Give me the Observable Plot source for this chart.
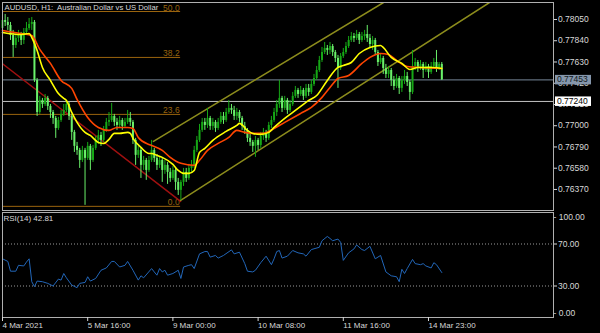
<!DOCTYPE html>
<html><head><meta charset="utf-8">
<script src="https://cdn.jsdelivr.net/npm/d3@7"></script>
<script src="https://cdn.jsdelivr.net/npm/@observablehq/plot@0.6"></script>
<style>
html,body{margin:0;padding:0;background:#000;}
#chart{position:relative;width:600px;height:333px;background:#000;overflow:hidden;}
#chart svg{position:absolute;left:0;}
#chart svg text{white-space:pre;}
</style></head><body><div id="chart"></div>
<script>
// ---------- data ----------
const titleText = "AUDUSD, H1:  Australian Dollar vs US Dollar";
const rsiTitle = "RSI(14) 42.81";
const firstOpen = 0.77961;
const closes = [0.78040,0.78021,0.77991,0.77892,0.77793,0.77863,0.77892,0.77843,0.77922,0.77961,
0.78001,0.78021,0.77448,0.77131,0.77250,0.77210,0.77270,0.77191,0.77131,0.77072,
0.76973,0.77052,0.77112,0.77151,0.77210,0.77092,0.76934,0.76796,0.76756,0.76657,
0.76756,0.76677,0.76796,0.76657,0.76776,0.76855,0.76904,0.76855,0.76954,0.77033,
0.77052,0.77092,0.77033,0.77003,0.77052,0.76993,0.77033,0.77072,0.77033,0.76855,
0.76707,0.76756,0.76608,0.76657,0.76558,0.76657,0.76756,0.76677,0.76608,0.76657,
0.76558,0.76608,0.76539,0.76479,0.76558,0.76440,0.76361,0.76440,0.76539,0.76479,
0.76578,0.76608,0.76756,0.76855,0.76954,0.77033,0.77003,0.77072,0.76993,0.77033,
0.76973,0.77033,0.77092,0.77052,0.77131,0.77171,0.77151,0.77092,0.77131,0.77072,
0.76993,0.76954,0.76875,0.76835,0.76796,0.76855,0.76805,0.76894,0.76934,0.76875,
0.77003,0.77052,0.77131,0.77210,0.77270,0.77171,0.77250,0.77151,0.77210,0.77290,
0.77349,0.77309,0.77349,0.77290,0.77369,0.77329,0.77408,0.77467,0.77546,0.77645,
0.77724,0.77764,0.77744,0.77783,0.77724,0.77665,0.77566,0.77685,0.77724,0.77783,
0.77843,0.77882,0.77863,0.77902,0.77843,0.77882,0.77902,0.77863,0.77803,0.77843,
0.77724,0.77625,0.77665,0.77566,0.77507,0.77546,0.77448,0.77388,0.77467,0.77369,
0.77448,0.77487,0.77428,0.77329,0.77586,0.77625,0.77566,0.77606,0.77546,0.77586,
0.77527,0.77586,0.77625,0.77566,0.77606,0.77453];
const highs = [0.78100,0.78100,0.78070,0.78021,0.77942,0.77892,0.77942,0.77922,0.77961,0.78021,
0.78060,0.78070,0.78040,0.77467,0.77290,0.77270,0.77309,0.77290,0.77210,0.77151,
0.77092,0.77082,0.77151,0.77210,0.77250,0.77230,0.77112,0.76954,0.76835,0.76776,
0.76796,0.76776,0.76835,0.76815,0.76805,0.76894,0.76954,0.76934,0.76993,0.77072,
0.77131,0.77220,0.77112,0.77072,0.77092,0.77072,0.77072,0.77151,0.77131,0.77052,
0.76875,0.76796,0.76776,0.76697,0.76677,0.76697,0.76855,0.76776,0.76716,0.76697,
0.76677,0.76657,0.76637,0.76578,0.76598,0.76578,0.76479,0.76460,0.76578,0.76578,
0.76618,0.76657,0.76796,0.76894,0.77013,0.77072,0.77072,0.77171,0.77092,0.77072,
0.77052,0.77072,0.77131,0.77131,0.77171,0.77250,0.77210,0.77191,0.77171,0.77151,
0.77092,0.77033,0.76973,0.76914,0.76855,0.76894,0.76875,0.76934,0.76973,0.76954,
0.77033,0.77092,0.77171,0.77250,0.77448,0.77290,0.77290,0.77270,0.77250,0.77329,
0.77388,0.77369,0.77388,0.77369,0.77408,0.77408,0.77448,0.77507,0.77586,0.77685,
0.77774,0.77823,0.77793,0.77823,0.77803,0.77744,0.77695,0.77714,0.77764,0.77823,
0.77882,0.77922,0.77912,0.77942,0.77922,0.77922,0.77942,0.77991,0.77902,0.77882,
0.77863,0.77744,0.77704,0.77685,0.77606,0.77586,0.77566,0.77487,0.77507,0.77487,
0.77487,0.77546,0.77527,0.77448,0.77744,0.77665,0.77645,0.77645,0.77625,0.77625,
0.77606,0.77625,0.77665,0.77744,0.77625,0.77625];
const lows = [0.77942,0.77981,0.77942,0.77843,0.77675,0.77764,0.77823,0.77793,0.77803,0.77892,
0.77942,0.77942,0.77428,0.77092,0.77112,0.77171,0.77191,0.77151,0.77072,0.77013,
0.76875,0.76954,0.77033,0.77092,0.77131,0.77052,0.76855,0.76736,0.76707,0.76578,
0.76637,0.76213,0.76657,0.76558,0.76637,0.76756,0.76815,0.76796,0.76835,0.76934,
0.76993,0.77033,0.76993,0.76954,0.76973,0.76954,0.76973,0.77013,0.76993,0.76815,
0.76608,0.76677,0.76479,0.76558,0.76460,0.76539,0.76637,0.76637,0.76558,0.76578,
0.76440,0.76519,0.76420,0.76440,0.76460,0.76361,0.76311,0.76262,0.76400,0.76440,
0.76460,0.76539,0.76578,0.76736,0.76835,0.76934,0.76954,0.76973,0.76954,0.76954,
0.76934,0.76954,0.77013,0.77013,0.77033,0.77112,0.77112,0.77052,0.77052,0.77033,
0.76954,0.76914,0.76835,0.76796,0.76736,0.76687,0.76756,0.76776,0.76855,0.76835,
0.76855,0.76973,0.77033,0.77092,0.77171,0.77131,0.77151,0.77112,0.77131,0.77191,
0.77270,0.77270,0.77290,0.77250,0.77270,0.77290,0.77309,0.77388,0.77448,0.77527,
0.77625,0.77704,0.77695,0.77704,0.77685,0.77625,0.77369,0.77546,0.77665,0.77704,
0.77764,0.77823,0.77823,0.77843,0.77803,0.77823,0.77843,0.77823,0.77764,0.77744,
0.77695,0.77586,0.77606,0.77507,0.77467,0.77467,0.77388,0.77349,0.77369,0.77309,
0.77329,0.77408,0.77388,0.77250,0.77309,0.77546,0.77527,0.77546,0.77467,0.77527,
0.77467,0.77507,0.77566,0.77527,0.77546,0.77448];

const maFastIdx = [0,7,10,11,13,15,18,21,23,24,26,28,31,33,36,38,40,42,44,47,48,49,52,55,56,58,60,64,66,68,70,72,74,76,79,84,88,89,92,94,97,100,102,106,109,112,115,118,122,126,128,131,134,138,142,143,146,150,153,156,162,165];
const maFastVals = [0.77922,0.77902,0.77912,0.77872,0.77744,0.77576,0.77448,0.77319,0.77270,0.77250,0.77131,0.77033,0.76934,0.76904,0.76835,0.76825,0.76865,0.76924,0.76924,0.76934,0.76924,0.76875,0.76786,0.76726,0.76726,0.76707,0.76687,0.76618,0.76558,0.76529,0.76529,0.76558,0.76736,0.76776,0.76855,0.76944,0.77003,0.77023,0.76954,0.76924,0.76914,0.76934,0.76983,0.77072,0.77131,0.77191,0.77250,0.77299,0.77448,0.77576,0.77596,0.77625,0.77714,0.77774,0.77793,0.77774,0.77675,0.77616,0.77556,0.77576,0.77576,0.77566];
const maSlowIdx = [0,7,11,14,18,22,26,28,32,36,40,43,47,49,51,55,56,60,63,67,72,74,77,81,85,88,91,94,98,102,106,112,116,120,123,126,130,135,138,142,145,148,152,157,165];
const maSlowVals = [0.77942,0.77912,0.77892,0.77754,0.77616,0.77448,0.77369,0.77260,0.77082,0.76983,0.76954,0.76983,0.76983,0.76973,0.76884,0.76815,0.76805,0.76756,0.76687,0.76628,0.76608,0.76658,0.76756,0.76825,0.76884,0.76954,0.76934,0.76924,0.76924,0.76973,0.77033,0.77122,0.77181,0.77280,0.77378,0.77467,0.77497,0.77616,0.77675,0.77714,0.77704,0.77645,0.77586,0.77576,0.77566];

const rsiIdx = [0,2,3,5,6,8,9,10,11,12,13,15,17,19,21,22,23,24,26,28,29,31,32,33,35,37,39,41,42,44,46,47,49,51,52,53,56,57,58,59,60,61,62,64,66,67,68,70,71,72,74,76,77,78,80,81,83,86,87,89,91,92,94,95,97,99,101,102,103,104,105,107,109,111,113,114,116,119,120,122,123,124,126,127,128,130,132,133,135,136,138,140,142,144,146,148,149,150,151,152,154,155,157,158,159,161,162,163,165];
const rsiVals = [55.9,53.4,44.1,44.1,49.7,49.1,52.8,55.9,34.1,29.4,34.7,34.1,32.5,30.0,36.6,35.6,41.9,37.8,30.9,28.4,32.5,33.4,38.8,34.7,37.2,45.0,47.2,53.4,53.4,48.1,49.7,53.4,45.0,35.6,39.7,37.8,46.6,43.4,40.3,46.6,43.4,45.0,40.3,41.9,45.0,37.2,48.1,49.7,50.3,46.6,60.6,62.8,62.8,57.5,59.1,56.6,59.1,64.4,60.6,62.2,51.3,44.1,43.4,45.0,52.2,58.4,50.3,55.9,62.8,63.8,56.6,58.4,63.8,61.6,60.6,58.4,64.7,66.9,73.1,77.2,75.3,73.1,74.7,71.6,54.4,61.6,65.3,69.1,64.7,63.8,67.8,55.9,59.1,43.4,39.7,38.8,34.1,45.9,41.9,46.6,55.3,51.3,50.3,51.3,49.1,47.2,52.2,50.3,42.81];
const rsiLevels = [70, 30];
const rsiTop = [100], rsiBottom = [0];

const fibLabels = ["50.0", "38.2", "23.6", "0.0"];
const fibPrices = [0.78129, 0.77675, 0.77112, 0.76203];
const fibStartIdx = -1, fibEndIdx = 66.9;

const trendRed = [{i: -1, p: 0.77633}, {i: 66.9, p: 0.76252}];
const channelUpper = [{i: 56.7, p: 0.76845}, {i: 143.1, p: 0.78218}];
const channelLower = [{i: 66.9, p: 0.76262}, {i: 182.9, p: 0.78218}];

const bidPrice = 0.77453;
const hLinePrice = 0.77240;
const priceTicks = [0.78050,0.77840,0.77630,0.77420,0.77210,0.77000,0.76790,0.76580,0.76370];
const dateTickIdx = [0, 32, 64, 96, 128, 160];
const dateLabels = ["4 Mar 2021", "5 Mar 16:00", "9 Mar 00:00", "10 Mar 08:00", "11 Mar 16:00", "14 Mar 23:00"];

// ---------- build ----------
const FONT = "'Liberation Sans', Arial, sans-serif";
const TXT = "#d8d8d8";
const BORDER = "#b0b0b0";
const BULL = "#16a816", BEAR = "#6af06a";
const FIB = "#9a640e";

const bars = closes.map((c, i) => ({i, open: i ? closes[i - 1] : firstOpen, close: c, high: highs[i], low: lows[i]}));
const up = bars.filter(b => b.close >= b.open), dn = bars.filter(b => b.close < b.open);
const fib = fibLabels.map((l, k) => ({label: l, price: fibPrices[k]}));
const maFast = maFastIdx.map((i, k) => ({i, p: maFastVals[k]}));
const maSlow = maSlowIdx.map((i, k) => ({i, p: maSlowVals[k]}));
const rsi = rsiIdx.map((i, k) => ({i, v: rsiVals[k]}));
const xDomain = [0, 206.95];
const dateMap = new Map(dateTickIdx.map((d, k) => [d, dateLabels[k]]));
const f2 = d3.format(".2f");

const main = Plot.plot({
  width: 600, height: 212,
  marginTop: 2, marginBottom: 2, marginLeft: 2, marginRight: 47,
  style: {background: "#000", color: TXT, fontFamily: FONT, fontSize: "8.5px", overflow: "visible"},
  x: {domain: xDomain, axis: null},
  y: {domain: [0.76162, 0.78218], axis: null},
  marks: [
    Plot.ruleY([bidPrice], {stroke: "#778899"}),
    Plot.ruleY([hLinePrice], {stroke: "#c4c4c4"}),
    Plot.ruleY(fib, {y: "price", x1: fibStartIdx, x2: fibEndIdx, stroke: FIB, clip: true}),
    Plot.text(fib, {x: fibEndIdx, y: "price", text: "label", textAnchor: "end", lineAnchor: "bottom", dx: -1, dy: -1, fill: FIB, fontSize: 8.5}),
    Plot.line(trendRed, {x: "i", y: "p", stroke: "#a01010", clip: true}),
    Plot.line(channelUpper, {x: "i", y: "p", stroke: "#8c8c1c", clip: true}),
    Plot.line(channelLower, {x: "i", y: "p", stroke: "#8c8c1c", clip: true}),
    Plot.ruleX(up, {x: "i", y1: "low", y2: "high", stroke: BULL}),
    Plot.ruleX(dn, {x: "i", y1: "low", y2: "high", stroke: BEAR}),
    Plot.ruleX(up, {x: "i", y1: "open", y2: "close", stroke: BULL, strokeWidth: 2}),
    Plot.ruleX(dn, {x: "i", y1: "open", y2: "close", stroke: BEAR, strokeWidth: 2}),
    Plot.line(maSlow, {x: "i", y: "p", stroke: "#ff4500", strokeWidth: 1.6, curve: "monotone-x"}),
    Plot.line(maFast, {x: "i", y: "p", stroke: "#ffff00", strokeWidth: 1.6, curve: "monotone-x"}),
    Plot.frame({stroke: BORDER}),
    Plot.axisY(priceTicks, {anchor: "right", label: null, tickSize: 3, tickPadding: 1.5, tickFormat: d3.format(".5f"), color: TXT, fontSize: 8.5}),
    Plot.text([titleText], {frameAnchor: "top-left", dx: 2, dy: 2, lineAnchor: "top", textAnchor: "start", fill: TXT, fontSize: 7.7})
  ]
});

// price-line labels on the axis
const ys = main.scale("y");
const svgSel = d3.select(main);
[[bidPrice, "#8596ab", "#101820"], [hLinePrice, "#ffffff", "#000000"]].forEach(([p, bg, fg]) => {
  const yy = ys.apply(p);
  const g = svgSel.append("g");
  g.append("rect").attr("x", 555).attr("y", yy - 4.5).attr("width", 36).attr("height", 9.5).attr("fill", bg);
  g.append("text").attr("x", 557).attr("y", yy).attr("dy", "0.34em").attr("font-size", 8.5)
    .attr("fill", fg).attr("text-anchor", "start").text(d3.format(".5f")(p));
});

const rsiPlot = Plot.plot({
  width: 600, height: 122,
  marginTop: 1, marginBottom: 16, marginLeft: 2, marginRight: 47,
  style: {background: "#000", color: TXT, fontFamily: FONT, fontSize: "8.5px", overflow: "visible"},
  x: {domain: xDomain, axis: null},
  y: {domain: [0, 100], axis: null},
  marks: [
    Plot.ruleY(rsiLevels, {stroke: "#9a9a9a", strokeDasharray: "1,2"}),
    Plot.line(rsi, {x: "i", y: "v", stroke: "#2266b8", strokeWidth: 1}),
    Plot.frame({stroke: BORDER}),
    Plot.axisY(rsiLevels, {anchor: "right", label: null, tickSize: 3, tickPadding: 1.5, tickFormat: f2, color: TXT, fontSize: 8.5}),
    Plot.text(rsiTop, {y: d => d, text: d => "- " + f2(d), frameAnchor: "right", textAnchor: "start", dx: 0, dy: 5, fill: TXT, fontSize: 8.5}),
    Plot.text(rsiBottom, {y: d => d, text: d => "- " + f2(d), frameAnchor: "right", textAnchor: "start", dx: 0, dy: -4, fill: TXT, fontSize: 8.5}),
    Plot.axisX(dateTickIdx, {anchor: "bottom", label: null, tickSize: 4, tickPadding: 1, textAnchor: "start", tickFormat: d => dateMap.get(d), color: TXT, fontSize: 8}),
    Plot.text([rsiTitle], {frameAnchor: "top-left", dx: 1, dy: 3, lineAnchor: "top", textAnchor: "start", fill: TXT, fontSize: 8})
  ]
});

const chart = document.getElementById("chart");
main.style.top = "0px";
rsiPlot.style.top = "211px";
chart.appendChild(main);
chart.appendChild(rsiPlot);
</script></body></html>
